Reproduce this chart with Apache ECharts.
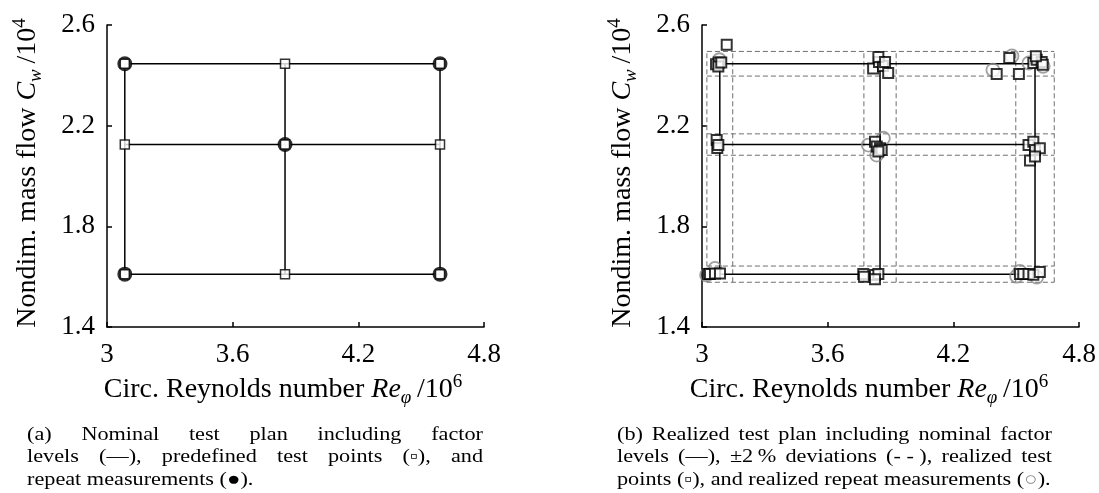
<!DOCTYPE html>
<html>
<head>
<meta charset="utf-8">
<script src="https://cdn.jsdelivr.net/npm/echarts@6/dist/echarts.min.js"></script>
<style>
  html, body { margin: 0; padding: 0; background: #fff; }
  #chart { width: 1099px; height: 493px; }
</style>
</head>
<body>
<div id="chart"></div>
<script>
// ---- data -------------------------------------------------------------
// Nominal factor levels: circumferential Reynolds number (x) and mass flow (y)
const reLevels = [3.085, 3.85, 4.59];
const cwLevels = [1.61, 2.125, 2.446];
// relative deviation band around each nominal level
const deviation = 0.02;

// axis ticks
const xTicks = [3, 3.6, 4.2, 4.8];
const yTicks = [1.4, 1.8, 2.2, 2.6];

// nominal plan: predefined test points (full factorial 3 x 3)
const plannedPoints = [
  [3.085, 1.61], [3.85, 1.61], [4.59, 1.61],
  [3.085, 2.125], [3.85, 2.125], [4.59, 2.125],
  [3.085, 2.446], [3.85, 2.446], [4.59, 2.446]
];
// nominal plan: repeat measurements (corners + centre)
const repeatPoints = [
  [3.085, 1.61], [4.59, 1.61], [3.85, 2.125], [3.085, 2.446], [4.59, 2.446]
];

// realized test points
const realizedPoints = [
  // upper level
  [3.118, 2.522],
  [3.067, 2.444], [3.080, 2.451], [3.078, 2.435], [3.092, 2.451],
  [3.817, 2.427], [3.845, 2.453], [3.864, 2.437], [3.889, 2.409], [3.842, 2.473], [3.874, 2.453],
  [4.467, 2.469], [4.407, 2.405], [4.513, 2.405],
  [4.582, 2.449], [4.598, 2.462], [4.622, 2.453], [4.627, 2.442], [4.594, 2.476],
  // centre level
  [3.070, 2.143], [3.073, 2.111], [3.078, 2.123],
  [3.826, 2.136], [3.834, 2.117], [3.850, 2.110], [3.858, 2.103], [3.842, 2.097],
  [4.559, 2.123], [4.582, 2.136], [4.590, 2.103], [4.613, 2.110], [4.566, 2.062], [4.590, 2.077],
  // lower level
  [3.030, 1.611], [3.038, 1.611], [3.062, 1.613], [3.086, 1.613],
  [3.770, 1.611], [3.773, 1.600], [3.826, 1.607], [3.842, 1.611], [3.826, 1.590],
  [4.518, 1.611], [4.534, 1.611], [4.559, 1.611], [4.582, 1.608], [4.613, 1.619]
];
// realized repeat measurements
const realizedRepeats = [
  [3.083, 2.462],
  [4.480, 2.477], [4.389, 2.421], [4.561, 2.449], [4.629, 2.436],
  [3.794, 2.123], [3.866, 2.150], [3.834, 2.083],
  [3.022, 1.607], [3.062, 1.633],
  [4.502, 1.602], [4.598, 1.598], [4.518, 1.621]
];

// captions
const captionA = [
  '(a) Nominal test plan including factor',
  'levels (\u2014), predefined test points (\u25AB), and',
  'repeat measurements (\u25CF).'
];
const captionB = [
  '(b) Realized test plan including nominal factor',
  'levels (\u2014), \u00B12\u202F% deviations (-\u00A0-\u00A0), realized test',
  'points (\u25AB), and realized repeat measurements ({g|\u25CB}).'
];

// ---- styling helpers ---------------------------------------------------
const SERIF = '"Liberation Serif", "DejaVu Serif", serif';
const INK = '#000';

const nameRich = {
  t:   { fontFamily: SERIF, fontSize: 28, color: INK },
  i:   { fontFamily: SERIF, fontSize: 28, color: INK, fontStyle: 'italic' },
  sub: { fontFamily: SERIF, fontSize: 19, color: INK, fontStyle: 'italic', padding: [16, 0, 0, 0] },
  sup: { fontFamily: SERIF, fontSize: 19, color: INK, padding: [0, 0, 15, 0] }
};

function xAxisFor(gridIndex, shift) {
  return {
    gridIndex, type: 'value',
    min: xTicks[0], max: xTicks[xTicks.length - 1], interval: xTicks[1] - xTicks[0],
    axisLine: { show: true, onZero: false, lineStyle: { color: INK, width: 1.5 } },
    axisTick: { show: true, inside: true, length: 5, lineStyle: { color: INK, width: 1.5 } },
    axisLabel: { show: true, color: INK, fontFamily: SERIF, fontSize: 27, margin: 14,
                 showMinLabel: true, showMaxLabel: true },
    splitLine: { show: false },
    name: '{t|Circ. Reynolds number }{i|Re}{sub|\u03C6}{t|\u2009/10}{sup|6}',
    nameLocation: 'middle', nameGap: 42,
    nameTextStyle: { rich: nameRich, padding: [0, shift, 0, 0] }
  };
}
function yAxisFor(gridIndex) {
  return {
    gridIndex, type: 'value',
    min: yTicks[0], max: yTicks[yTicks.length - 1], interval: yTicks[1] - yTicks[0],
    axisLine: { show: true, onZero: false, lineStyle: { color: INK, width: 1.5 } },
    axisTick: { show: true, inside: true, length: 5, lineStyle: { color: INK, width: 1.5 } },
    axisLabel: { show: true, color: INK, fontFamily: SERIF, fontSize: 27, margin: 12,
                 formatter: v => v.toFixed(1), showMinLabel: true, showMaxLabel: true },
    splitLine: { show: false },
    name: '{t|Nondim. mass flow }{i|C}{sub|w}{t|\u2009/10}{sup|4}',
    nameLocation: 'middle', nameGap: 62, nameRotate: 90,
    nameTextStyle: { rich: nameRich, padding: [0, 0, 0, 6] }
  };
}

function segment(gridIndex, pts, lineStyle, z) {
  return {
    type: 'line', xAxisIndex: gridIndex, yAxisIndex: gridIndex,
    data: pts, symbol: 'none', silent: true, z: z || 2,
    lineStyle: Object.assign({ color: INK, width: 1.5 }, lineStyle || {})
  };
}

// nominal factor level lines spanning the test matrix
function levelLines(gridIndex) {
  const out = [];
  const x0 = reLevels[0], x1 = reLevels[reLevels.length - 1];
  const y0 = cwLevels[0], y1 = cwLevels[cwLevels.length - 1];
  cwLevels.forEach(y => out.push(segment(gridIndex, [[x0, y], [x1, y]])));
  reLevels.forEach(x => out.push(segment(gridIndex, [[x, y0], [x, y1]])));
  return out;
}

// +/- deviation bands around every level
function deviationLines(gridIndex) {
  const out = [];
  const dash = { color: '#6f6f6f', width: 1, type: [5, 3] };
  const x0 = reLevels[0] * (1 - deviation), x1 = reLevels[reLevels.length - 1] * (1 + deviation);
  const y0 = cwLevels[0] * (1 - deviation), y1 = cwLevels[cwLevels.length - 1] * (1 + deviation);
  cwLevels.forEach(y => [-1, 1].forEach(s => {
    const yy = y * (1 + s * deviation);
    out.push(segment(gridIndex, [[x0, yy], [x1, yy]], dash, 1));
  }));
  reLevels.forEach(x => [-1, 1].forEach(s => {
    const xx = x * (1 + s * deviation);
    out.push(segment(gridIndex, [[xx, y0], [xx, y1]], dash, 1));
  }));
  return out;
}

function scatter(gridIndex, data, symbol, size, itemStyle, z) {
  return {
    type: 'scatter', xAxisIndex: gridIndex, yAxisIndex: gridIndex,
    data, symbol, symbolSize: size, silent: true, z,
    itemStyle
  };
}

const series = [
  // (a) nominal plan
  ...levelLines(0),
  scatter(0, repeatPoints, 'circle', 12, { color: '#fff', borderColor: INK, borderWidth: 3 }, 5),
  scatter(0, plannedPoints, 'rect', 9, { color: '#fff', borderColor: INK, borderWidth: 1.5 }, 6),
  // (b) realized plan
  ...deviationLines(1),
  ...levelLines(1),
  scatter(1, realizedRepeats, 'circle', 13, { color: 'rgba(0,0,0,0)', borderColor: '#8a8a8a', borderWidth: 1.8 }, 5),
  scatter(1, realizedPoints, 'rect', 10, { color: '#fff', borderColor: INK, borderWidth: 2 }, 6)
];

// ---- captions (justified like the typeset source) --------------------
const CAP_SIZE = 19;
const CAP_SCALE = 1.17;
const CAP_FONT = CAP_SIZE + 'px ' + SERIF;
const measureCtx = document.createElement('canvas').getContext('2d');
function textW(s) { measureCtx.font = CAP_FONT; return measureCtx.measureText(s).width * CAP_SCALE; }

function capText(x, baseline, text, rich) {
  return {
    type: 'text', x, y: baseline - 0.34 * CAP_SIZE, scaleX: CAP_SCALE, silent: true,
    style: {
      text, fontFamily: SERIF, fontSize: CAP_SIZE, fill: INK,
      align: 'left', verticalAlign: 'middle', rich: rich
    }
  };
}

function captionElements(lines, left, right, baselines) {
  const els = [];
  lines.forEach((line, k) => {
    const last = k === lines.length - 1;
    if (last) {
      els.push(capText(left, baselines[k], line,
        { g: { fill: '#8a8a8a', fontFamily: SERIF, fontSize: CAP_SIZE } }));
      return;
    }
    const words = line.split(' ');
    const total = words.reduce((a, w) => a + textW(w), 0);
    const gap = (right - left - total) / (words.length - 1);
    let x = left;
    words.forEach(w => {
      els.push(capText(x, baselines[k], w));
      x += textW(w) + gap;
    });
  });
  return els;
}

const baselines = [441, 463.5, 486];
const graphic = [
  ...captionElements(captionA, 27, 483, baselines),
  ...captionElements(captionB, 617, 1052, baselines)
];

const chart = echarts.init(document.getElementById('chart'), null, { renderer: 'canvas' });
chart.setOption({
  animation: false,
  backgroundColor: '#fff',
  grid: [
    { left: 107, top: 25, width: 377, height: 302, containLabel: false, outerBoundsMode: 'none' },
    { left: 702, top: 25, width: 377, height: 302, containLabel: false, outerBoundsMode: 'none' }
  ],
  xAxis: [xAxisFor(0, 25), xAxisFor(1, 43)],
  yAxis: [yAxisFor(0), yAxisFor(1)],
  series,
  graphic
});
</script>
</body>
</html>
